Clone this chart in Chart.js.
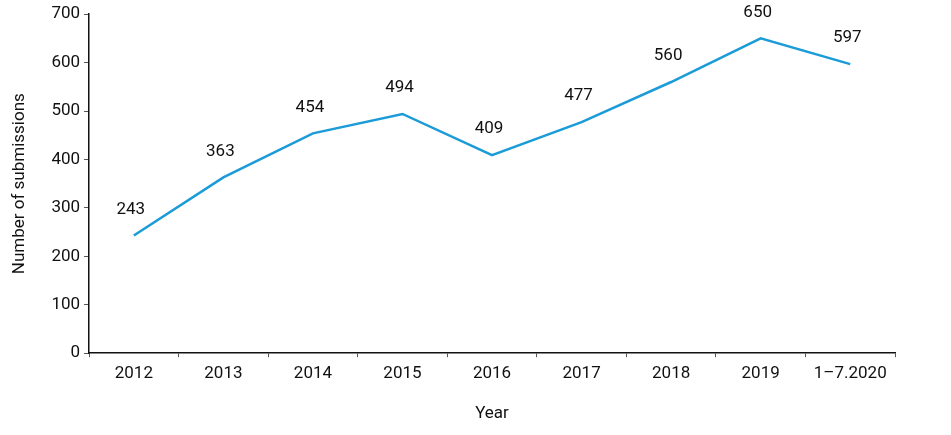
<!DOCTYPE html>
<html>
<head>
<meta charset="utf-8">
<script src="https://cdn.jsdelivr.net/npm/chart.js@4/dist/chart.umd.min.js"></script>
<style>
  html, body { margin: 0; padding: 0; background: #fff; }
  #wrap { width: 951px; height: 435px; position: relative; }
</style>
</head>
<body>
<div id="wrap"><canvas id="chart"></canvas></div>
<script>
"use strict";

const YEARS = ["2012", "2013", "2014", "2015", "2016", "2017", "2018", "2019", "1\u20137.2020"];
const SUBMISSIONS = [243, 363, 454, 494, 409, 477, 560, 650, 597];
const Y_TICKS = [0, 100, 200, 300, 400, 500, 600, 700];

const FONT = "'Roboto', 'Liberation Sans', sans-serif";
const INK = "#111111";
const LINE_BLUE = "#1b9bd8";

// value labels drawn above each point
const valueLabels = {
  id: "valueLabels",
  afterDatasetsDraw(c) {
    const { ctx } = c;
    const meta = c.getDatasetMeta(0);
    ctx.save();
    ctx.fillStyle = INK;
    ctx.font = `17px ${FONT}`;
    ctx.textAlign = "center";
    ctx.textBaseline = "middle";
    meta.data.forEach((pt, i) => {
      ctx.fillText(String(SUBMISSIONS[i]), pt.x - 3, pt.y - 26);
    });
    ctx.restore();
  },
};

new Chart(document.getElementById("chart"), {
  type: "line",
  data: {
    labels: YEARS,
    datasets: [{
      label: "Submissions",
      data: SUBMISSIONS,
      borderColor: LINE_BLUE,
      backgroundColor: LINE_BLUE,
      borderWidth: 2.5,
      pointRadius: 0,
      tension: 0,
    }],
  },
  options: {
    responsive: true,
    maintainAspectRatio: false,
    animation: false,
    layout: { padding: { top: 6, right: 56, bottom: 7, left: 6 } },
    scales: {
      x: {
        offset: true,
        grid: { display: true, drawOnChartArea: false, offset: true, color: "#555", tickLength: 4 },
        border: { display: true, color: INK, width: 1.5 },
        ticks: { color: INK, font: { family: FONT, size: 17 }, maxRotation: 0, padding: 6 },
        title: { display: true, text: "Year", color: INK, font: { family: FONT, size: 17 }, padding: { top: 14 } },
      },
      y: {
        min: 0,
        max: 700,
        afterBuildTicks(axis) { axis.ticks = Y_TICKS.map((v) => ({ value: v })); },
        grid: { display: true, drawOnChartArea: false, color: "#555", tickLength: 5 },
        border: { display: true, color: INK, width: 1.5 },
        ticks: { color: INK, font: { family: FONT, size: 17 }, padding: 4 },
        title: { display: true, text: "Number of submissions", color: INK, font: { family: FONT, size: 17 }, padding: { bottom: 17 } },
      },
    },
    plugins: {
      legend: { display: false },
      tooltip: { enabled: false },
    },
  },
  plugins: [valueLabels],
});
</script>
</body>
</html>
